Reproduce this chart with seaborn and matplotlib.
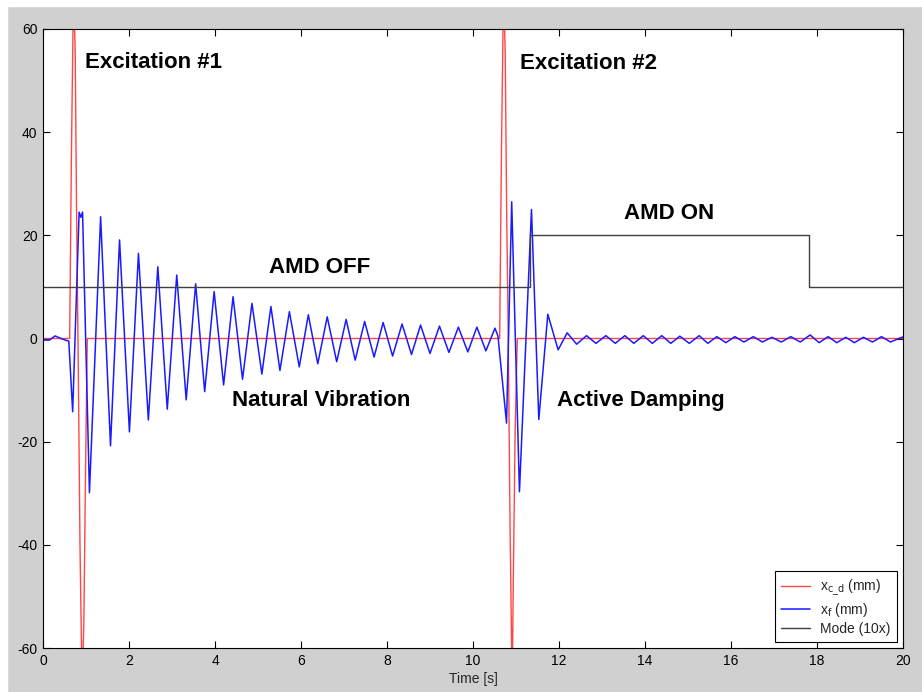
import matplotlib
matplotlib.use("Agg")
import matplotlib.pyplot as plt
import seaborn as sns

# ---------- DATA ----------

# x_c_d (mm): command signal, two pulses, zero elsewhere
xcd_t = [0, 0.62, 0.66, 0.71, 0.75, 0.78, 0.82, 0.86, 0.91, 0.95, 0.99, 1.03,
         10.62, 10.66, 10.71, 10.75, 10.78, 10.82, 10.86, 10.91, 10.94, 10.98, 11.03, 20]
xcd_v = [0, 0, 35, 68, 55, 25, -5, -40, -68, -55, -25, 0,
         0, 35, 68, 55, 27, 0, -35, -68, -45, -18, 0, 0]

# x_f (mm): floor response, peaks and troughs
xf_t = [0, 0.15, 0.28, 0.42, 0.55, 0.60, 0.69, 0.84, 0.88, 0.92, 1.08,
        1.34, 1.57, 1.78, 2.01, 2.22, 2.45, 2.67, 2.89, 3.11, 3.33,
        3.55, 3.76, 3.98, 4.20, 4.42, 4.64, 4.86, 5.09, 5.30, 5.51,
        5.73, 5.96, 6.17, 6.39, 6.61, 6.83, 7.05, 7.26, 7.48, 7.70,
        7.91, 8.13, 8.35, 8.57, 8.78, 9.00, 9.22, 9.44, 9.66, 9.88,
        10.09, 10.30, 10.51, 10.58,
        10.78, 10.90, 11.08, 11.36, 11.53, 11.74, 11.98, 12.19, 12.41,
        12.64, 12.86, 13.09, 13.31, 13.53, 13.74, 13.96, 14.17, 14.39, 14.60,
        14.81, 15.03, 15.26, 15.46, 15.67, 15.88, 16.09, 16.30, 16.52, 16.73,
        16.95, 17.17, 17.39, 17.61, 17.84, 18.05, 18.26, 18.46, 18.67, 18.87,
        19.08, 19.29, 19.50, 19.71, 19.93, 20.0]
xf_v = [-0.3, -0.3, 0.5, 0.0, -0.4, -0.5, -14.2, 24.5, 23.5, 24.5, -29.9,
        23.6, -20.8, 19.1, -18.1, 16.5, -15.8, 13.9, -13.7, 12.3, -11.9,
        10.6, -10.3, 9.1, -9.0, 8.1, -7.9, 6.8, -6.9, 6.2, -6.2,
        5.2, -5.5, 4.6, -4.9, 4.2, -4.5, 3.7, -4.2, 3.3, -3.6,
        3.1, -3.4, 2.8, -3.1, 2.6, -2.9, 2.4, -2.7, 2.2, -2.6,
        2.2, -2.4, 2.0, 0.5,
        -16.4, 26.5, -29.7, 25.0, -15.7, 4.7, -2.2, 1.1, -1.1,
        0.55, -0.94, 0.55, -0.94, 0.55, -0.94, 0.55, -0.94, 0.55, -0.94,
        0.45, -0.94, 0.55, -0.94, 0.36, -0.81, 0.36, -0.68, 0.36, -0.68,
        0.23, -0.68, 0.36, -0.68, 0.68, -0.81, 0.36, -0.81, 0.23, -0.81,
        0.23, -0.68, 0.36, -0.68, 0.1, 0.3]

# Mode (10x): 10 = AMD off, 20 = AMD on
mode_t = [0, 11.33, 11.33, 17.82, 17.82, 20]
mode_v = [10, 10, 20, 20, 10, 10]

x_ticks = [0, 2, 4, 6, 8, 10, 12, 14, 16, 18, 20]
y_ticks = [-60, -40, -20, 0, 20, 40, 60]

# annotations: (text, t, y)
notes = [("Excitation #1", 0.98, 53.6),
         ("Excitation #2", 11.09, 53.4),
         ("AMD OFF", 5.26, 13.8),
         ("AMD ON", 13.5, 24.3),
         ("Natural Vibration", 4.40, -12.1),
         ("Active Damping", 11.95, -12.1)]

# ---------- STYLE ----------
sns.set_theme(style="ticks")
plt.rcParams["font.family"] = ["Liberation Sans", "DejaVu Sans"]
plt.rcParams["axes.unicode_minus"] = False
plt.rcParams["xtick.direction"] = "in"
plt.rcParams["ytick.direction"] = "in"
plt.rcParams["xtick.top"] = True
plt.rcParams["ytick.right"] = True

fig = plt.figure(figsize=(9.22, 6.92), dpi=100, facecolor="#d0d0d0")
# white window edge on top and left
fig.add_artist(plt.Rectangle((0, 1 - 6 / 692), 1, 6 / 692,
                             transform=fig.transFigure, color="white", zorder=0))
fig.add_artist(plt.Rectangle((0, 0), 7 / 922, 1,
                             transform=fig.transFigure, color="white", zorder=0))

ax = fig.add_axes([43 / 922, 1 - 648 / 692, 860 / 922, 619 / 692])
ax.set_facecolor("white")

sns.lineplot(x=xcd_t, y=xcd_v, ax=ax, color="#ff4545", lw=1.0,
             estimator=None, sort=False, label=r"x$_{\mathrm{c\_d}}$ (mm)")
sns.lineplot(x=xf_t, y=xf_v, ax=ax, color="#1a1aff", lw=1.1,
             estimator=None, sort=False, label=r"x$_{\mathrm{f}}$ (mm)")
sns.lineplot(x=mode_t, y=mode_v, ax=ax, color="#404040", lw=1.0,
             estimator=None, sort=False, label="Mode (10x)")

for txt, tx, ty in notes:
    ax.text(tx, ty, txt, fontsize=16, fontweight="bold", ha="left", va="center",
            color="black")

ax.set_xlim(0, 20)
ax.set_ylim(-60, 60)
ax.set_xticks(x_ticks)
ax.set_yticks(y_ticks)
ax.tick_params(length=5, width=0.8, labelsize=10, pad=4, colors="black")
for s in ax.spines.values():
    s.set_linewidth(0.8)
    s.set_color("black")
ax.set_xlabel("Time [s]", fontsize=10, labelpad=3)
ax.set_ylabel("")

leg = ax.legend(loc="lower right", fontsize=10, frameon=True, fancybox=False,
                framealpha=1, edgecolor="black", handlelength=2.1,
                handletextpad=0.7, borderpad=0.45, borderaxespad=0.45,
                labelspacing=0.2)
leg.get_frame().set_linewidth(0.8)

fig.savefig("out.png", dpi=100, facecolor=fig.get_facecolor())
